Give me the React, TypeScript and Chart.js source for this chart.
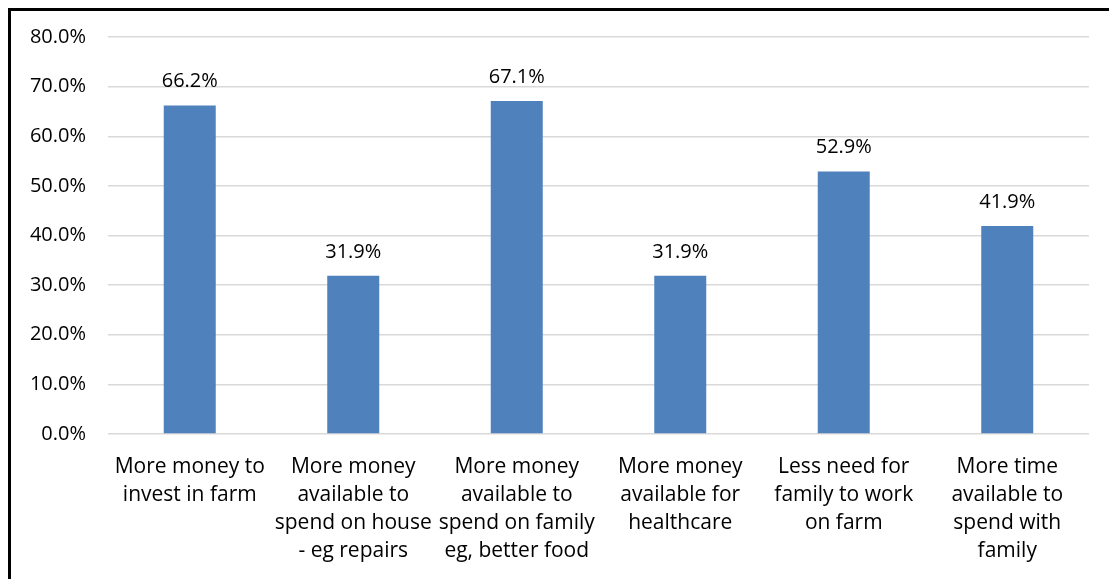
import React, { useEffect, useRef } from "react";
import { Chart, registerables } from "chart.js";

Chart.register(...registerables);

const categories: string[][] = [
  ["More money to", "invest in farm"],
  ["More money", "available to", "spend on house", "- eg repairs"],
  ["More money", "available to", "spend on family", "eg, better food"],
  ["More money", "available for", "healthcare"],
  ["Less need for", "family to work", "on farm"],
  ["More time", "available to", "spend with", "family"],
];
const values: number[] = [66.2, 31.9, 67.1, 31.9, 52.9, 41.9];
const yMin = 0;
const yMax = 80;
const yStep = 10;

const FONT = "'Open Sans', sans-serif";
const TEXT = "#000000";

const dataLabelPlugin = {
  id: "dataLabels",
  afterDatasetsDraw(chart: any) {
    const ctx = chart.ctx;
    const meta = chart.getDatasetMeta(0);
    ctx.save();
    ctx.font = `20px ${FONT}`;
    ctx.fillStyle = TEXT;
    ctx.textAlign = "center";
    ctx.textBaseline = "alphabetic";
    meta.data.forEach((bar: any, i: number) => {
      ctx.fillText(values[i].toFixed(1) + "%", bar.x, bar.y - 18);
    });
    ctx.restore();
  },
};

export default function App() {
  const ref = useRef<HTMLCanvasElement | null>(null);
  useEffect(() => {
    document.documentElement.style.overflow = "hidden";
    document.body.style.overflow = "hidden";
    const c = new Chart(ref.current!, {
      type: "bar",
      data: {
        labels: categories,
        datasets: [
          {
            data: values,
            backgroundColor: "#4F81BD",
            barPercentage: 0.318,
            categoryPercentage: 1,
          },
        ],
      },
      options: {
        animation: false,
        responsive: false,
        layout: { padding: { top: 26, right: 20, left: 0, bottom: 0 } },
        plugins: { legend: { display: false }, tooltip: { enabled: false } },
        scales: {
          x: {
            grid: { display: false, drawTicks: false },
            border: { display: false },
            ticks: {
              color: TEXT,
              font: { family: FONT, size: 21, lineHeight: 28 / 21 },
              padding: 19,
              maxRotation: 0,
              autoSkip: false,
            },
            afterFit: (s: any) => {
              s.height = 145;
            },
          },
          y: {
            min: yMin,
            max: yMax,
            grid: { color: "#D9D9D9", lineWidth: 1.5, drawTicks: false },
            border: { display: false },
            ticks: {
              stepSize: yStep,
              color: TEXT,
              font: { family: FONT, size: 20 },
              padding: 22,
              callback: (v: any) => Number(v).toFixed(1) + "%",
            },
            afterFit: (s: any) => {
              s.width = 97;
              s.paddingTop = 0;
              s.paddingBottom = 0;
            },
          },
        },
      },
      plugins: [dataLabelPlugin],
    });
    return () => c.destroy();
  }, []);
  return (
    <div
      style={{
        position: "absolute",
        left: 8,
        top: 8,
        borderTop: "3px solid #000",
        borderLeft: "3px solid #000",
        width: 1200,
        height: 640,
        background: "#fff",
      }}
    >
      <canvas ref={ref} width={1098} height={568} style={{ display: "block" }} />
    </div>
  );
}
